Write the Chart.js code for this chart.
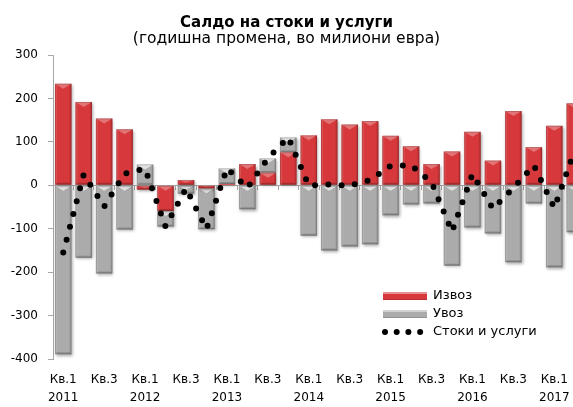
<!DOCTYPE html>
<html lang="mk">
<head>
<meta charset="utf-8">
<script src="https://cdn.jsdelivr.net/npm/chart.js@4/dist/chart.umd.min.js"></script>
<style>
  html, body { margin: 0; padding: 0; overflow: hidden; background: #fff; }
  #wrap { position: relative; width: 600px; height: 407px; }
</style>
</head>
<body>
<div id="wrap"><canvas id="chart"></canvas></div>
<script>
// Quarterly categories, Q1 2011 – Q2 2017
const quarters = [
  'Кв.1 2011', 'Кв.2 2011', 'Кв.3 2011', 'Кв.4 2011',
  'Кв.1 2012', 'Кв.2 2012', 'Кв.3 2012', 'Кв.4 2012',
  'Кв.1 2013', 'Кв.2 2013', 'Кв.3 2013', 'Кв.4 2013',
  'Кв.1 2014', 'Кв.2 2014', 'Кв.3 2014', 'Кв.4 2014',
  'Кв.1 2015', 'Кв.2 2015', 'Кв.3 2015', 'Кв.4 2015',
  'Кв.1 2016', 'Кв.2 2016', 'Кв.3 2016', 'Кв.4 2016',
  'Кв.1 2017', 'Кв.2 2017'
];

// Axis labels shown under every second quarter
const tickLabels = [
  ['Кв.1', '2011'], '', 'Кв.3', '',
  ['Кв.1', '2012'], '', 'Кв.3', '',
  ['Кв.1', '2013'], '', 'Кв.3', '',
  ['Кв.1', '2014'], '', 'Кв.3', '',
  ['Кв.1', '2015'], '', 'Кв.3', '',
  ['Кв.1', '2016'], '', 'Кв.3', '',
  ['Кв.1', '2017'], ''
];

// Annual change, million EUR
const exportsChange = [
  234, 192, 154, 129,
  -10, -59, 12, -7,
  3, 49, 29, 76,
  115, 152, 140, 148,
  114, 90, 49, 78,
  123, 57, 171, 88,
  137, 189
];
const importsChange = [
  -389, -167, -203, -102,
  48, -36, -19, -94,
  36, -55, 33, 34,
  -116, -150, -141, -136,
  -69, -44, -42, -185,
  -97, -111, -177, -42,
  -189, -108
];
const goodsServicesBalance = [
  -155, 25, -49, 27,
  38, -95, -7, -101,
  39, -6, 62, 110,
  -1, 2, -1, 12,
  45, 46, 7, -107,
  26, -54, -6, 46,
  -52, 81
];

const chartTitle = 'Салдо на стоки и услуги';
const chartSubtitle = '(годишна промена, во милиони евра)';

const FONT = '"DejaVu Sans", Verdana, sans-serif';
Chart.defaults.font.family = FONT;
Chart.defaults.font.size = 12;
Chart.defaults.color = '#000';

const RED = '#d6383b';
const GREY = '#ababab';
const AXIS = '#a6a6a6';

// Soft drop shadow behind the bars
const barShadow = {
  id: 'barShadow',
  beforeDatasetDraw(chart, args) {
    if (args.meta.type !== 'bar') return;
    const ctx = chart.ctx;
    ctx.save();
    ctx.shadowColor = 'rgba(0,0,0,0.35)';
    ctx.shadowBlur = 3;
    ctx.shadowOffsetX = 1;
    ctx.shadowOffsetY = 1.5;
  },
  afterDatasetDraw(chart, args) {
    if (args.meta.type !== 'bar') return;
    chart.ctx.restore();
  }
};

// Bevelled look for the bars: light top wedge, shaded sides and bottom
const bevelPlugin = {
  id: 'bevel',
  afterDatasetDraw(chart, args) {
    const meta = args.meta;
    if (meta.type !== 'bar') return;
    const ctx = chart.ctx;
    const a = chart.chartArea;
    const light = meta.index === 1 ? 0.65 : 0.3;
    ctx.save();
    ctx.beginPath();
    ctx.rect(a.left, a.top, a.right - a.left, a.bottom - a.top);
    ctx.clip();
    meta.data.forEach(el => {
      const p = el.getProps(['x', 'y', 'base', 'width'], true);
      const l = p.x - p.width / 2, r = p.x + p.width / 2;
      const t = Math.min(p.y, p.base), b = Math.max(p.y, p.base);
      const h = b - t;
      if (h < 1) return;
      const d = Math.min(2, h / 3);
      const v = Math.min(5, h / 2);
      // top wedge
      ctx.fillStyle = `rgba(255,255,255,${light})`;
      ctx.beginPath();
      ctx.moveTo(l, t); ctx.lineTo(r, t); ctx.lineTo(p.x, t + v); ctx.closePath();
      ctx.fill();
      // left side
      ctx.fillStyle = 'rgba(255,255,255,0.12)';
      ctx.fillRect(l, t, d, h);
      // right side
      ctx.fillStyle = 'rgba(0,0,0,0.10)';
      ctx.fillRect(r - d, t, d, h);
      // bottom edge
      ctx.fillStyle = 'rgba(0,0,0,0.18)';
      ctx.beginPath();
      ctx.moveTo(l, b); ctx.lineTo(r, b); ctx.lineTo(r - d, b - d); ctx.lineTo(l + d, b - d); ctx.closePath();
      ctx.fill();
      // outline
      ctx.strokeStyle = 'rgba(0,0,0,0.16)';
      ctx.lineWidth = 1;
      ctx.strokeRect(l + 0.5, t + 0.5, p.width - 1, h - 1);
    });
    ctx.restore();
  }
};

// Legend placed inside the plot area
const insideLegend = {
  id: 'insideLegend',
  afterDraw(chart, args, o) {
    const ctx = chart.ctx;
    ctx.save();
    ctx.font = `13px ${FONT}`;
    ctx.textBaseline = 'middle';
    ctx.textAlign = 'left';
    chart.data.datasets.forEach((ds, i) => {
      const yc = o.y + i * o.rowGap;
      if (ds.type === 'line') {
        ctx.fillStyle = ds.borderColor;
        for (let k = 0; k < 4; k++) {
          ctx.beginPath();
          ctx.arc(o.x + 2 + k * 11.7, yc, 3, 0, Math.PI * 2);
          ctx.fill();
        }
      } else {
        ctx.fillStyle = ds.backgroundColor;
        ctx.fillRect(o.x, yc - 4, o.swatch, 8);
        ctx.fillStyle = 'rgba(255,255,255,0.45)';
        ctx.fillRect(o.x, yc - 4, o.swatch, 2);
        ctx.fillStyle = 'rgba(0,0,0,0.15)';
        ctx.fillRect(o.x, yc + 3, o.swatch, 1);
      }
      ctx.fillStyle = '#000';
      ctx.fillText(ds.label, o.x + o.swatch + o.gap, yc);
    });
    ctx.restore();
  }
};

// Two-line heading centred on the page
const header = {
  id: 'header',
  afterDraw(chart, args, o) {
    const ctx = chart.ctx;
    ctx.save();
    ctx.fillStyle = '#000';
    ctx.textAlign = 'center';
    ctx.textBaseline = 'alphabetic';
    ctx.font = `bold 15px ${FONT}`;
    ctx.fillText(o.title, o.x, o.titleY);
    ctx.font = `15.5px ${FONT}`;
    ctx.fillText(o.subtitle, o.x, o.subtitleY);
    ctx.restore();
  }
};

new Chart(document.getElementById('chart'), {
  type: 'bar',
  data: {
    labels: quarters,
    datasets: [
      {
        label: 'Извоз',
        data: exportsChange,
        backgroundColor: RED,
        borderWidth: 0,
        xAxisID: 'x', yAxisID: 'y',
        order: 1
      },
      {
        label: 'Увоз',
        data: importsChange,
        backgroundColor: GREY,
        borderWidth: 0,
        xAxisID: 'x', yAxisID: 'y',
        order: 1
      },
      {
        type: 'line',
        label: 'Стоки и услуги',
        data: goodsServicesBalance,
        stack: 'balance',
        borderColor: '#000',
        borderWidth: 6,
        borderDash: [0, 13.3],
        borderCapStyle: 'round',
        pointRadius: 0,
        pointHoverRadius: 0,
        tension: 0,
        fill: false,
        xAxisID: 'x', yAxisID: 'y',
        order: 0
      }
    ]
  },
  options: {
    responsive: true,
    maintainAspectRatio: false,
    animation: false,
    events: [],
    layout: { padding: { top: 55, right: 15, bottom: 0, left: 0 } },
    datasets: {
      bar: { categoryPercentage: 0.81, barPercentage: 1 }
    },
    scales: {
      x: {
        stacked: true,
        offset: true,
        grid: { display: false, drawTicks: false },
        border: { display: false },
        ticks: {
          autoSkip: false, maxRotation: 0, minRotation: 0,
          padding: 12,
          font: { size: 12, lineHeight: 1.5 },
          callback: (v, i) => tickLabels[i]
        },
        afterFit(s) { s.height = 48; }
      },
      xZero: {
        type: 'category',
        axis: 'x',
        position: { y: 0 },
        offset: true,
        grid: { offset: true, drawOnChartArea: false, drawTicks: true, tickLength: 4, color: AXIS },
        border: { display: true, color: AXIS },
        ticks: { display: false }
      },
      y: {
        stacked: true,
        min: -400, max: 300,
        ticks: { stepSize: 100, padding: 10, font: { size: 12 } },
        grid: { drawOnChartArea: false, drawTicks: true, tickLength: 5, color: AXIS },
        border: { display: true, color: AXIS },
        afterFit(s) { s.width = 53; }
      }
    },
    plugins: {
      legend: { display: false },
      tooltip: { enabled: false },
      insideLegend: { x: 383, y: 296, rowGap: 18, swatch: 44, gap: 6 },
      header: { title: chartTitle, subtitle: chartSubtitle, x: 286.5, titleY: 26.5, subtitleY: 43 }
    }
  },
  plugins: [barShadow, bevelPlugin, insideLegend, header]
});
</script>
</body>
</html>
